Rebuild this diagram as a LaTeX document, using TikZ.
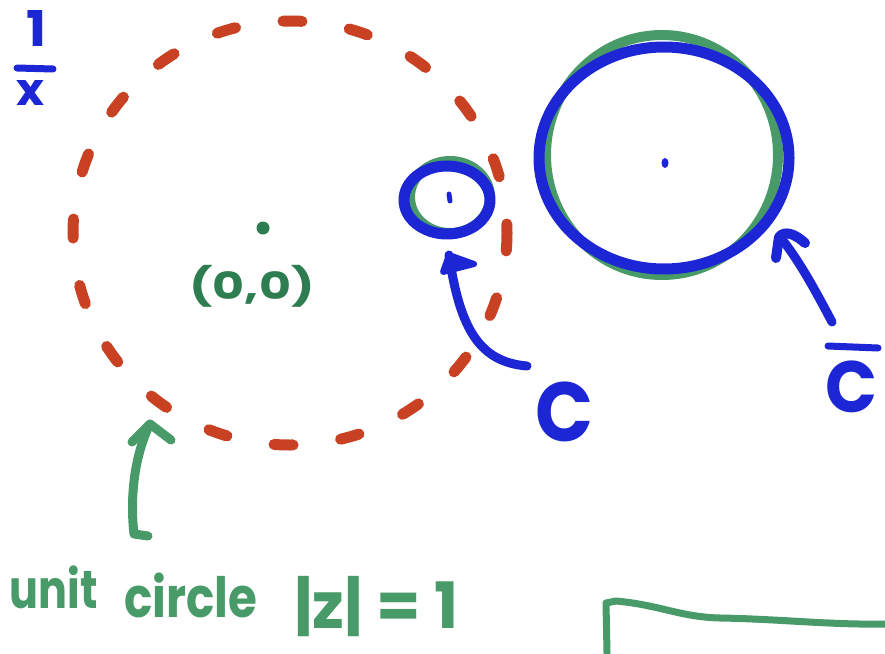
\documentclass[tikz,border=0pt]{standalone}
\usepackage{fontspec}
\usepackage{graphicx}
\setmainfont{Poppins}
\definecolor{mblue}{RGB}{28,38,212}
\definecolor{mgreen}{RGB}{72,155,105}
\definecolor{mdgreen}{RGB}{45,125,80}
\definecolor{mred}{RGB}{200,65,35}
\newcommand{\fitto}[3]{\resizebox*{#1pt}{#2pt}{#3}}
\tikzset{
  marker/.style={line cap=round, line join=round},
  lbl/.style={inner sep=0pt, font=\bfseries},
  bluepen/.style={marker, draw=mblue, line width=#1},
  greenpen/.style={marker, draw=mgreen, line width=#1},
}
\begin{document}
\begin{tikzpicture}[x=1pt,y=-1pt]
\useasboundingbox[fill=white] (0,0) rectangle (885,653);

% unit circle (dashed)
\draw[mred, line width=11pt, line cap=round, dash pattern=on 19pt off 48pt, dash phase=10pt]
  (290,233) ellipse [x radius=217pt, y radius=212pt];
\fill[mdgreen] (263,228) circle [radius=6.5pt];
\node[lbl, text=mdgreen] (orig) at (252,286) {\fitto{125}{42}{(0,0)}};

% 1/x
\node[lbl, text=mblue] (one) at (36,28) {\fitto{20}{36}{1}};
\node[lbl, text=mblue] (ex) at (31,93) {\fitto{28}{25}{x}};
\coordinate (barL) at (17,68);
\coordinate (barR) at (53,69);
\draw[bluepen=7pt] (barL) -- (barR);

% small circle C
\draw[greenpen=10pt] (450,197) ellipse [x radius=40pt, y radius=36pt];
\draw[bluepen=11pt] (447,200) ellipse [x radius=43pt, y radius=34pt];
\draw[bluepen=5pt] (449,194) -- (450,201);

% big circle C-bar
\draw[greenpen=10pt] (662,155) ellipse [x radius=116pt, y radius=120pt];
\draw[bluepen=11pt] (664,158) ellipse [x radius=125pt, y radius=111pt];
\fill[mblue] (665,163) ellipse [x radius=3.5pt, y radius=5pt];

% label C and its arrow
\node[lbl, text=mblue] (c) at (565,412) {\fitto{58}{60}{C}};
\coordinate (cs) at (527,366);
\coordinate (ct) at (449,255);
\draw[bluepen=9pt] (cs) .. controls (480,362) and (460,330) .. (ct);
\filldraw[bluepen=6pt, fill=mblue] (443,272) -- (ct) -- (474,264) -- cycle;

% label C-bar and its arrow
\node[lbl, text=mblue] (cb) at (851,387) {\fitto{52}{52}{C}};
\coordinate (cbL) at (828,346);
\coordinate (cbR) at (878,348);
\draw[bluepen=7pt] (cbL) -- (cbR);
\coordinate (bs) at (832,322);
\coordinate (bt) at (781,238);
\draw[bluepen=9pt] (bs) .. controls (815,290) and (800,262) .. (bt);
\draw[bluepen=10pt] (776,258) -- (779,237) .. controls (785,230) and (795,234) .. (805,243);

% unit circle label and arrow
\node[lbl, text=mgreen] (unit) at (54,587) {\fitto{88}{43}{unit}};
\node[lbl, text=mgreen] (circ) at (191,595) {\fitto{133}{45}{circle}};
\node[lbl, text=mgreen, anchor=base west, font=\bfseries\fontsize{64}{64}\selectfont] (abs) at (294,628) {|z| = 1};
\coordinate (gs) at (148,536);
\coordinate (gt) at (150,424);
\draw[greenpen=9pt] (gs) -- (134,534) .. controls (129,490) and (137,450) .. (gt);
\draw[greenpen=9pt] (132,442) -- (gt) -- (171,440);

% green corner line
\coordinate (la) at (607,653);
\coordinate (lb) at (606,603);
\coordinate (lc) at (885,624);
\draw[greenpen=7pt] (la) -- (lb) -- (616,601) .. controls (660,605) and (680,617) .. (720,618) .. controls (780,619) and (830,625) .. (lc);
\end{tikzpicture}
\end{document}
